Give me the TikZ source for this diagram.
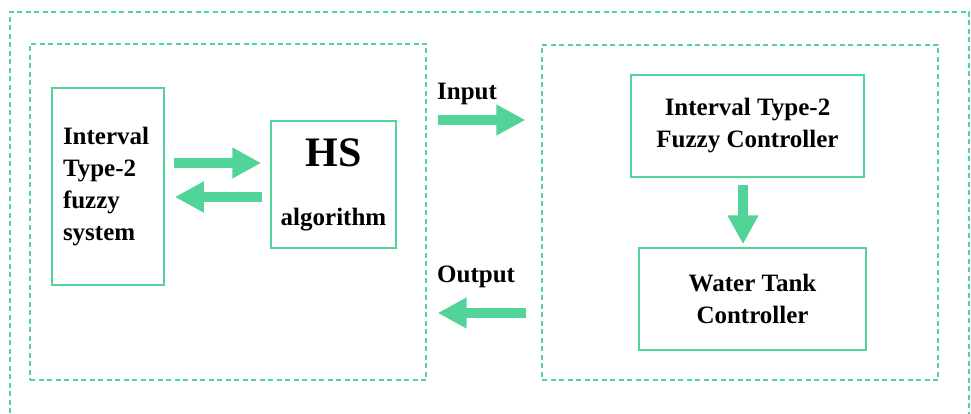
\documentclass[tikz,border=0pt]{standalone}
\usepackage{fontspec}
\setmainfont{Liberation Serif}
\usetikzlibrary{arrows.meta,positioning}
\definecolor{mint}{RGB}{82,212,152}

\begin{document}
\begin{tikzpicture}[x=1pt, y=-1pt,
    frame/.style={draw=mint, line width=1.3pt, dash pattern=on 5pt off 3.5pt},
    box/.style={rectangle, draw=mint, line width=1.5pt, align=center, inner sep=0pt, font=\fontsize{25}{32}\selectfont\bfseries},
    flow/.style={draw=mint, line width=10pt, -{Triangle[width=29pt,length=29pt]}},
    lbl/.style={font=\fontsize{25}{30}\selectfont\bfseries, inner sep=0pt}
]
\useasboundingbox (0,0) rectangle (971,414);

% Dashed frames
\draw[frame] (10,430) -- (10,12) -- (969,12) -- (969,430);
\node[frame, minimum width=396pt, minimum height=336pt] (optim) at (228,212) {};
\node[frame, minimum width=396pt, minimum height=335pt] (plant) at (740,212.5) {};

% Optimisation side
\node[box, minimum width=112pt, minimum height=197pt, align=left, text width=90pt] (it2fs) at (108,186.5) {Interval\\Type-2\\fuzzy\\system\\[-4pt]};
\node[box, minimum width=125pt, minimum height=127pt] (hs) at (333.5,184.5) {{\fontsize{42}{42}\selectfont HS}\\[27pt]algorithm};

\coordinate (upper) at (0,163);
\coordinate (lower) at (0,197);
\draw[flow, shorten <=9pt, shorten >=9pt] (it2fs.east |- upper) -- (hs.west |- upper);
\draw[flow, shorten <=8pt, shorten >=10pt] (hs.west |- lower) -- (it2fs.east |- lower);

% Controlled plant side
\node[box, minimum width=233pt, minimum height=102pt] (it2fc) at (747.5,126) {Interval Type-2\\Fuzzy Controller};
\node[box, minimum width=227pt, minimum height=102pt] (tank) at (752.5,299) {Water Tank\\Controller};

\coordinate (drop) at (743,0);
\draw[flow, shorten <=7pt, shorten >=3pt] (it2fc.south -| drop) -- (tank.north -| drop);

% Links between the two sides
\coordinate (inrow) at (0,120);
\coordinate (outrow) at (0,313);
\draw[flow, shorten <=11pt, shorten >=16pt] (optim.east |- inrow) -- (plant.west |- inrow);
\draw[flow, shorten <=15pt, shorten >=11pt] (plant.west |- outrow) -- (optim.east |- outrow);

\node[lbl, anchor=base west] (inlbl) at (437,100) {Input};
\node[lbl, anchor=base west] (outlbl) at (437,282) {Output};

\end{tikzpicture}
\end{document}
